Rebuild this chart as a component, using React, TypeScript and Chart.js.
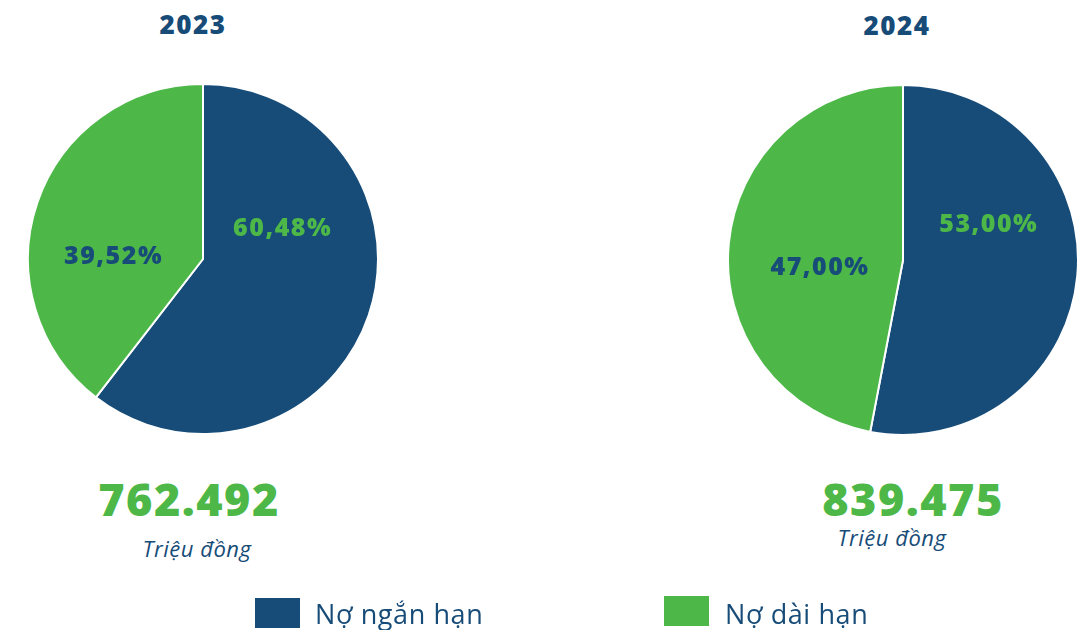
import React, { useEffect, useRef } from "react";
import { Chart, registerables } from "chart.js";

Chart.register(...registerables);

const categories = ["Nợ ngắn hạn", "Nợ dài hạn"];
const years = ["2023", "2024"];
const share2023 = [60.48, 39.52];
const share2024 = [53.0, 47.0];
const totals = ["762.492", "839.475"];
const unitLabel = "Triệu đồng";

const BLUE = "#174C78";
const GREEN = "#4DB848";

const fmt = (v: number) => v.toFixed(2).replace(".", ",") + "%";

type PieProps = {
  values: number[];
  labelOffsets: [number, number][];
  style: React.CSSProperties;
};

function Pie({ values, labelOffsets, style }: PieProps) {
  const ref = useRef<HTMLCanvasElement | null>(null);
  useEffect(() => {
    if (!ref.current) return;
    const labelPlugin = {
      id: "sliceLabels",
      afterDatasetsDraw(chart: any) {
        const meta = chart.getDatasetMeta(0);
        const ctx = chart.ctx;
        ctx.save();
        ctx.font = "800 25px 'Open Sans'";
        try { (ctx as any).letterSpacing = "1.5px"; } catch (e) {}
        ctx.textAlign = "center";
        ctx.textBaseline = "middle";
        meta.data.forEach((arc: any, i: number) => {
          const r = arc.outerRadius;
          const [fx, fy] = labelOffsets[i];
          ctx.fillStyle = i === 0 ? GREEN : BLUE;
          ctx.fillText(fmt(values[i]), arc.x + fx * r, arc.y + fy * r);
        });
        ctx.restore();
      },
    };
    const chart = new Chart(ref.current, {
      type: "pie",
      data: {
        labels: categories,
        datasets: [
          {
            data: values,
            backgroundColor: [BLUE, GREEN],
            borderColor: "#ffffff",
            borderWidth: 2,
          },
        ],
      },
      options: {
        animation: false,
        responsive: false,
        maintainAspectRatio: false,
        layout: { padding: 0 },
        plugins: {
          legend: { display: false },
          tooltip: { enabled: false },
        },
      },
      plugins: [labelPlugin],
    });
    return () => chart.destroy();
  }, [values, labelOffsets]);
  return <canvas ref={ref} width={352} height={352} style={{ position: "absolute", ...style }} />;
}

const textBase: React.CSSProperties = {
  position: "absolute",
  transform: "translate(-50%, -50%)",
  whiteSpace: "nowrap",
  lineHeight: 1,
};

export default function App() {
  const off2023 = useRef<[number, number][]>([
    [0.455, -0.172],
    [-0.511, -0.012],
  ]).current;
  const off2024 = useRef<[number, number][]>([
    [0.49, -0.2],
    [-0.474, 0.046],
  ]).current;
  return (
    <div style={{ position: "fixed", left: 0, top: 0, width: 1078, height: 630, background: "#fff", fontFamily: "'Open Sans', sans-serif" }}>
      <div style={{ ...textBase, left: 193, top: 24, fontSize: 26, fontWeight: 800, letterSpacing: 1.5, color: BLUE }}>{years[0]}</div>
      <div style={{ ...textBase, left: 897, top: 25, fontSize: 26, fontWeight: 800, letterSpacing: 1.5, color: BLUE }}>{years[1]}</div>

      <Pie values={share2023} labelOffsets={off2023} style={{ left: 27, top: 83 }} />
      <Pie values={share2024} labelOffsets={off2024} style={{ left: 727, top: 84 }} />

      <div style={{ ...textBase, left: 189, top: 498, fontSize: 45, fontWeight: 800, letterSpacing: 1.5, color: GREEN }}>{totals[0]}</div>
      <div style={{ ...textBase, left: 197, top: 548, fontSize: 22, fontStyle: "italic", letterSpacing: 0.5, color: BLUE }}>{unitLabel}</div>
      <div style={{ ...textBase, left: 913, top: 498, fontSize: 45, fontWeight: 800, letterSpacing: 1.5, color: GREEN }}>{totals[1]}</div>
      <div style={{ ...textBase, left: 892, top: 537, fontSize: 22, fontStyle: "italic", letterSpacing: 0.5, color: BLUE }}>{unitLabel}</div>

      <div style={{ position: "absolute", left: 255, top: 598, width: 45, height: 30, background: BLUE }} />
      <div style={{ ...textBase, transform: "translate(0, -50%)", left: 315, top: 613, fontSize: 27, letterSpacing: 0.6, color: BLUE }}>{categories[0]}</div>
      <div style={{ position: "absolute", left: 664, top: 596, width: 45, height: 30, background: GREEN }} />
      <div style={{ ...textBase, transform: "translate(0, -50%)", left: 725, top: 613, fontSize: 27, letterSpacing: 0.6, color: BLUE }}>{categories[1]}</div>
    </div>
  );
}
